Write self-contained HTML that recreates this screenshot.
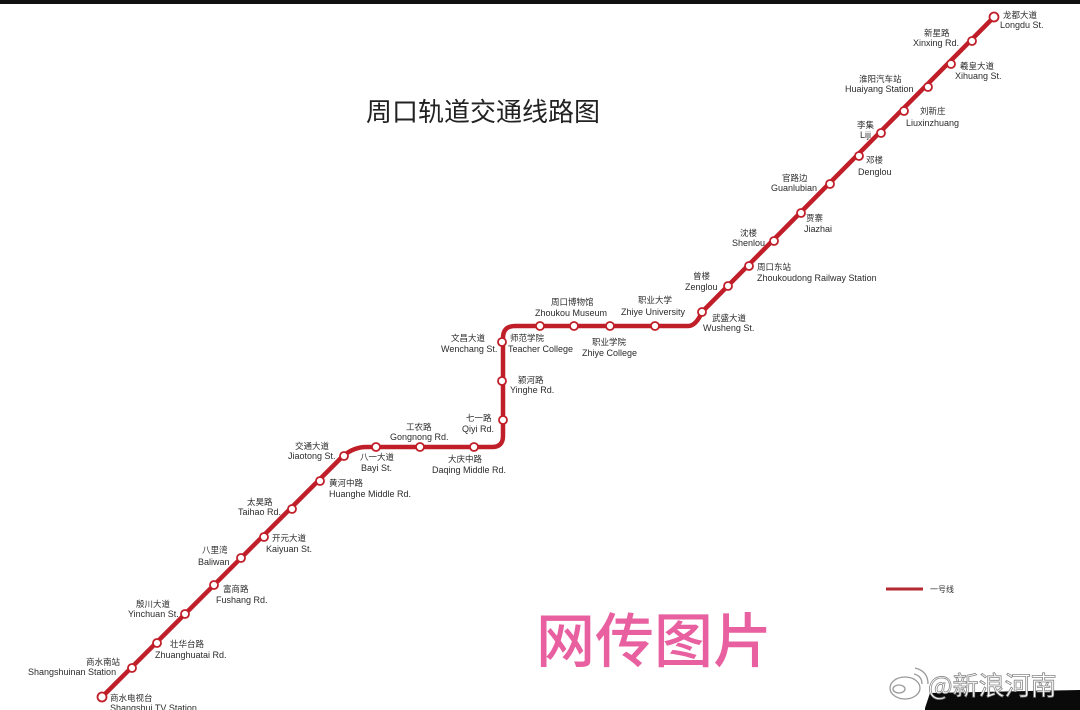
<!DOCTYPE html>
<html><head><meta charset="utf-8"><style>
html,body{margin:0;padding:0;background:#fff;}
svg{display:block;}
text{font-family:"Liberation Sans","Noto Sans CJK SC",sans-serif;fill:#2b2b2b;}
.cn{font-size:8.5px;}
.en{font-size:9px;}
</style></head><body>
<svg width="1080" height="710" viewBox="0 0 1080 710" xmlns="http://www.w3.org/2000/svg">
<rect width="1080" height="710" fill="#fff"/>
<rect x="0" y="0" width="1080" height="4" fill="#111"/>
<text x="366" y="121" style="font-size:26px;fill:#222;font-family:'Noto Sans CJK SC',sans-serif">周口轨道交通线路图</text>
<path d="M102,697 L343,456 Q354,447 366,447 L492,447 Q503,447 503,436 L503,338 Q503,326 515,326 L688,326 Q696,326 702,312 L994,17" fill="none" stroke="#c01e28" stroke-width="4.5" stroke-linejoin="round"/>
<g fill="#fff" stroke="#c01e28" stroke-width="1.8">
<circle cx="994" cy="17" r="4.5"/><circle cx="972" cy="41" r="4"/><circle cx="951" cy="64" r="4"/><circle cx="928" cy="87" r="4"/><circle cx="904" cy="111" r="4"/><circle cx="881" cy="133" r="4"/><circle cx="859" cy="156" r="4"/><circle cx="830" cy="184" r="4"/><circle cx="801" cy="213" r="4"/><circle cx="774" cy="241" r="4"/><circle cx="749" cy="266" r="4"/><circle cx="728" cy="286" r="4"/><circle cx="702" cy="312" r="4"/>
<circle cx="655" cy="326" r="4"/><circle cx="610" cy="326" r="4"/><circle cx="574" cy="326" r="4"/><circle cx="540" cy="326" r="4"/>
<circle cx="502" cy="342" r="4"/><circle cx="502" cy="381" r="4"/><circle cx="503" cy="420" r="4"/>
<circle cx="474" cy="447" r="4"/><circle cx="420" cy="447" r="4"/><circle cx="376" cy="447" r="4"/><circle cx="344" cy="456" r="4"/>
<circle cx="320" cy="481" r="4"/><circle cx="292" cy="509" r="4"/><circle cx="264" cy="537" r="4"/><circle cx="241" cy="558" r="4"/><circle cx="214" cy="585" r="4"/><circle cx="185" cy="614" r="4"/><circle cx="157" cy="643" r="4"/><circle cx="132" cy="668" r="4"/><circle cx="102" cy="697" r="4.5"/>
</g>
<g>
<text class="cn" x="1003" y="18">龙都大道</text><text class="en" x="1000" y="28">Longdu St.</text>
<text class="cn" x="924" y="36">新星路</text><text class="en" x="913" y="46">Xinxing Rd.</text>
<text class="cn" x="960" y="69">羲皇大道</text><text class="en" x="955" y="79">Xihuang St.</text>
<text class="cn" x="859" y="82">淮阳汽车站</text><text class="en" x="845" y="92">Huaiyang Station</text>
<text class="cn" x="920" y="114">刘新庄</text><text class="en" x="906" y="126">Liuxinzhuang</text>
<text class="cn" x="857" y="128">李集</text><text class="en" x="860" y="138">Liji</text>
<text class="cn" x="866" y="163">邓楼</text><text class="en" x="858" y="175">Denglou</text>
<text class="cn" x="782" y="181">官路边</text><text class="en" x="771" y="191">Guanlubian</text>
<text class="cn" x="806" y="221">贾寨</text><text class="en" x="804" y="232">Jiazhai</text>
<text class="cn" x="740" y="236">沈楼</text><text class="en" x="732" y="246">Shenlou</text>
<text class="cn" x="757" y="270">周口东站</text><text class="en" x="757" y="281">Zhoukoudong Railway Station</text>
<text class="cn" x="693" y="279">曾楼</text><text class="en" x="685" y="290">Zenglou</text>
<text class="cn" x="712" y="321">武盛大道</text><text class="en" x="703" y="331">Wusheng St.</text>
<text class="cn" x="638" y="303">职业大学</text><text class="en" x="621" y="315">Zhiye University</text>
<text class="cn" x="592" y="345">职业学院</text><text class="en" x="582" y="356">Zhiye College</text>
<text class="cn" x="551" y="305">周口博物馆</text><text class="en" x="535" y="316">Zhoukou Museum</text>
<text class="cn" x="510" y="341">师范学院</text><text class="en" x="508" y="352">Teacher College</text>
<text class="cn" x="451" y="341">文昌大道</text><text class="en" x="441" y="352">Wenchang St.</text>
<text class="cn" x="518" y="383">颍河路</text><text class="en" x="510" y="393">Yinghe Rd.</text>
<text class="cn" x="466" y="421">七一路</text><text class="en" x="462" y="432">Qiyi Rd.</text>
<text class="cn" x="448" y="462">大庆中路</text><text class="en" x="432" y="473">Daqing Middle Rd.</text>
<text class="cn" x="406" y="430">工农路</text><text class="en" x="390" y="440">Gongnong Rd.</text>
<text class="cn" x="360" y="460">八一大道</text><text class="en" x="361" y="471">Bayi St.</text>
<text class="cn" x="295" y="449">交通大道</text><text class="en" x="288" y="459">Jiaotong St.</text>
<text class="cn" x="329" y="486">黄河中路</text><text class="en" x="329" y="497">Huanghe Middle Rd.</text>
<text class="cn" x="247" y="505">太昊路</text><text class="en" x="238" y="515">Taihao Rd.</text>
<text class="cn" x="272" y="541">开元大道</text><text class="en" x="266" y="552">Kaiyuan St.</text>
<text class="cn" x="202" y="553">八里湾</text><text class="en" x="198" y="565">Baliwan</text>
<text class="cn" x="223" y="592">富商路</text><text class="en" x="216" y="603">Fushang Rd.</text>
<text class="cn" x="136" y="607">殷川大道</text><text class="en" x="128" y="617">Yinchuan St.</text>
<text class="cn" x="170" y="647">壮华台路</text><text class="en" x="155" y="658">Zhuanghuatai Rd.</text>
<text class="cn" x="86" y="665">商水南站</text><text class="en" x="28" y="675">Shangshuinan Station</text>
<text class="cn" x="110" y="701">商水电视台</text><text class="en" x="110" y="711">Shangshui TV Station</text>
</g>
<line x1="886" y1="589" x2="923" y2="589" stroke="#b52a32" stroke-width="3"/>
<text x="930" y="592" style="font-size:8px">一号线</text>
<text x="536" y="662" style="font-size:59px;fill:#e8609f;font-family:'Noto Sans CJK SC',sans-serif;font-weight:500">网传图片</text>
<path d="M925,708 L930,693 L1080,690 L1080,710 L925,710 Z" fill="#0a0a0a"/>
<g fill="none" stroke="#999" stroke-width="1.3">
<ellipse cx="905" cy="688" rx="15" ry="11"/><ellipse cx="899" cy="689" rx="6" ry="4"/>
<path d="M914,674 q8,2 8,10"/><path d="M915,668 q13,3 13,16"/>
</g>
<text x="928" y="695" style="font-size:26px;fill:#fff;stroke:#888;stroke-width:0.8;font-family:'Noto Sans CJK SC',sans-serif">@新浪河南</text>
</svg>
</body></html>
